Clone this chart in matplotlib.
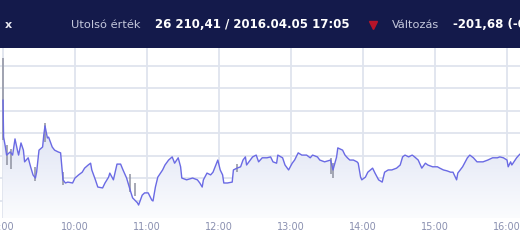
import matplotlib
matplotlib.use("Agg")
import matplotlib.pyplot as plt
import numpy as np
from matplotlib.patches import Rectangle
from matplotlib.lines import Line2D
from matplotlib.colors import LinearSegmentedColormap

# ---- data: minutes after 09:00 and index value ----
minutes = [0, 0.5, 2, 3, 6, 8, 10, 12, 13, 15, 17, 18, 21, 23, 25, 27, 28, 30, 33, 34,
           35, 37, 38, 41, 43, 46, 48, 49, 50, 52, 54, 58, 60, 63, 66, 68, 71, 73, 74, 77,
           79, 83, 85, 88, 89, 92, 95, 98, 100, 103, 106, 108, 112, 113, 116, 118, 121, 124, 125, 127,
           129, 133, 135, 138, 141, 143, 146, 148, 149, 153, 158, 162, 164, 166, 167, 170, 173, 175, 178, 179,
           181, 183, 184, 187, 191, 192, 195, 198, 200, 202, 203, 206, 208, 211, 213, 216, 220, 223, 225, 228,
           229, 233, 235, 238, 241, 243, 246, 249, 253, 256, 258, 262, 264, 268, 273, 275, 278, 279, 283, 285,
           287, 289, 292, 295, 296, 298, 299, 302, 304, 308, 310, 313, 316, 318, 321, 324, 328, 331, 333, 335,
           338, 341, 343, 346, 349, 352, 354, 358, 362, 364, 367, 370, 373, 375, 378, 379, 383, 387, 389, 392,
           395, 398, 400, 404, 408, 412, 414, 417, 420, 421, 423, 424, 428, 430, 432]
values = [26324, 26242, 26220, 26202, 26209, 26202, 26238, 26213, 26202, 26229, 26213, 26187, 26196, 26176, 26158, 26151, 26164, 26213, 26220, 26247,
          26267, 26240, 26242, 26220, 26213, 26209, 26207, 26176, 26147, 26140, 26142, 26140, 26151, 26158, 26164, 26173, 26180, 26184, 26169, 26147,
          26131, 26129, 26140, 26153, 26162, 26147, 26182, 26182, 26169, 26151, 26124, 26107, 26096, 26091, 26113, 26118, 26118, 26102, 26100, 26131,
          26153, 26169, 26180, 26191, 26198, 26184, 26196, 26176, 26151, 26147, 26151, 26147, 26140, 26131, 26147, 26162, 26158, 26164, 26184, 26191,
          26169, 26158, 26140, 26140, 26142, 26169, 26173, 26176, 26191, 26198, 26180, 26191, 26198, 26202, 26187, 26196, 26196, 26198, 26187, 26184,
          26202, 26196, 26180, 26169, 26184, 26191, 26207, 26202, 26202, 26196, 26202, 26198, 26191, 26187, 26191, 26169, 26198, 26218, 26213, 26202,
          26196, 26191, 26191, 26187, 26184, 26153, 26147, 26153, 26164, 26173, 26162, 26147, 26142, 26164, 26169, 26169, 26173, 26180, 26198, 26202,
          26198, 26202, 26198, 26191, 26173, 26184, 26180, 26176, 26176, 26173, 26169, 26167, 26164, 26164, 26147, 26162, 26176, 26196, 26202, 26196,
          26187, 26187, 26187, 26191, 26196, 26196, 26198, 26196, 26191, 26176, 26187, 26180, 26196, 26202, 26207]

# intraday high/low spikes (grey)
spike_minutes = [0, 3, 7, 27, 35, 50, 106, 110, 195, 273, 275]
spike_low = [26235, 26180, 26170, 26145, 26230, 26135, 26120, 26110, 26165, 26160, 26150]
spike_high = [26418, 26225, 26215, 26175, 26273, 26165, 26160, 26140, 26182, 26195, 26185]

hour_ticks = [0, 60, 120, 180, 240, 300, 360, 420]
hour_labels = ["9:00", "10:00", "11:00", "12:00", "13:00", "14:00", "15:00", "16:00"]

fig = plt.figure(figsize=(5.2, 2.45), dpi=100)
fig.patch.set_facecolor("white")

# header band
fig.add_artist(Rectangle((0, 1 - 48 / 245), 1, 48 / 245, transform=fig.transFigure,
                         facecolor="#141a4b", edgecolor="none", zorder=0))
hy = 1 - 25 / 245
fig.text(5 / 520, hy, "x", color="#e8e8f0", fontsize=8, fontweight="bold", va="center", ha="left")
fig.text(71 / 520, hy, "Utolsó érték", color="#c4c8dc", fontsize=8.2, va="center", ha="left")
fig.text(155 / 520, hy, "26 210,41 / 2016.04.05 17:05", color="white", fontsize=8.5,
         fontweight="bold", va="center", ha="left")
fig.add_artist(Line2D([373 / 520], [hy], transform=fig.transFigure, marker="v", markersize=5.5,
                      color="#b8142a", linestyle="none"))
fig.text(392 / 520, hy, "Változás", color="#c4c8dc", fontsize=8.2, va="center", ha="left")
fig.text(453 / 520, hy, "-201,68 (-0,76%)", color="white", fontsize=8.5, fontweight="bold",
         va="center", ha="left")

ax = fig.add_axes([0, 27 / 245, 1, 170 / 245])
ax.set_xlim(-2.5, 430.83)
ax.set_ylim(26062.2, 26440)
for s in ax.spines.values():
    s.set_visible(False)

ax.set_yticks([26100, 26150, 26200, 26250, 26300, 26350, 26400])
ax.set_xticks(hour_ticks)
ax.set_xticklabels(hour_labels)
ax.tick_params(axis="y", left=False, labelleft=False)
ax.tick_params(axis="x", length=0, pad=3, labelsize=7, labelcolor="#8a90b0")
ax.grid(True, color="#dfe4ee", linewidth=1.3)
ax.set_axisbelow(True)

# gradient fill under the line
x = np.array(minutes)
y = np.array(values)
poly = ax.fill_between(x, y, 26062.2, color="none")
grad = np.linspace(0, 1, 256).reshape(-1, 1)
cmap = LinearSegmentedColormap.from_list("g", ["#fbfcfe", "#dde2f3"])
im = ax.imshow(grad, cmap=cmap, aspect="auto", origin="lower",
               extent=[-2.5, 430.83, 26062.2, 26280], zorder=1)
path = poly.get_paths()[0]
im.set_clip_path(path, transform=ax.transData)

ax.vlines(spike_minutes, spike_low, spike_high, color="#8a8d9c", linewidth=1.4, alpha=0.75, zorder=2)
ax.plot(x, y, color="#6a6ae4", linewidth=1.0, zorder=3)

fig.savefig("out.png", dpi=100)
